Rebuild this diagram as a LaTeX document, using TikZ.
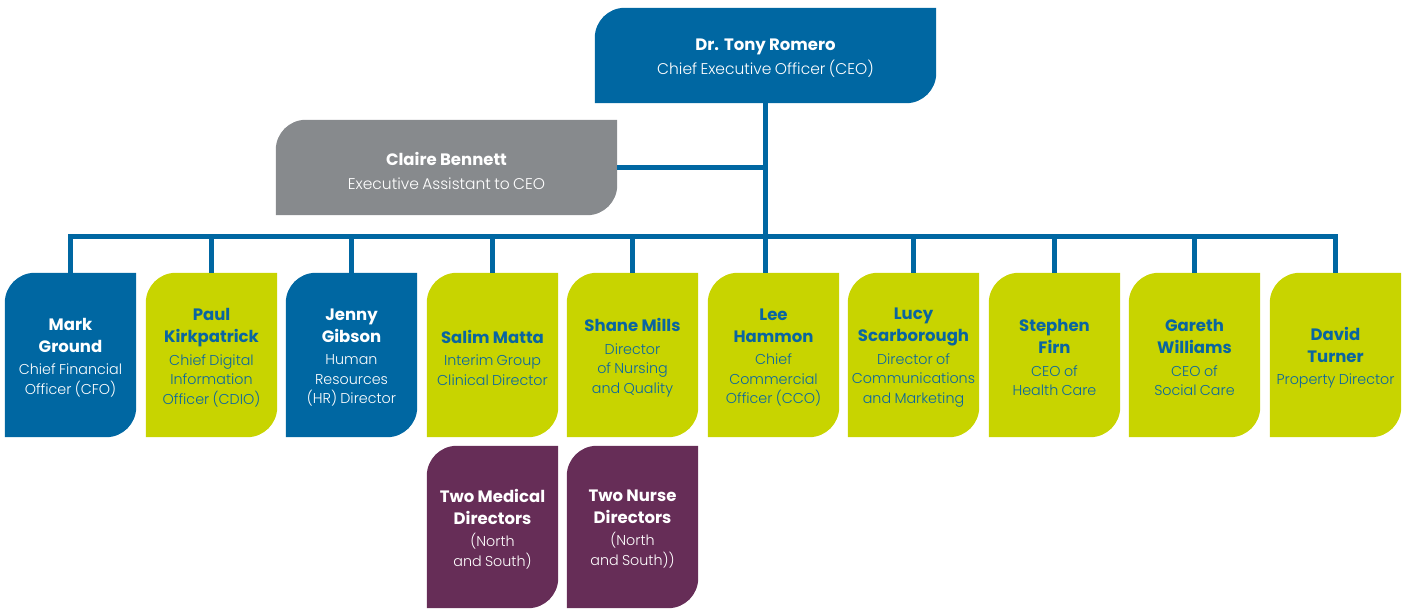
\documentclass[tikz,border=0pt]{standalone}
\usepackage{fontspec}
\setmainfont{Poppins}
\newfontfamily\lightfont{Poppins Light}
\usetikzlibrary{backgrounds}
\definecolor{cblue}{HTML}{0067A2}
\definecolor{clime}{HTML}{C8D400}
\definecolor{cpurple}{HTML}{662D57}
\definecolor{cgray}{HTML}{878A8D}
\definecolor{ctext}{HTML}{0A65A0}
\newcommand\orgname{\fontsize{16.5}{22}\selectfont\bfseries}
\newcommand\orgrole{\vspace{3pt}\fontsize{14.3}{19.5}\selectfont\lightfont}
\newcommand\toprole{\vspace{4pt}\fontsize{15.5}{20}\selectfont\lightfont}
\newcommand\orgshape[2]{\fill[#2] (#1.south west) -- ([yshift=-30pt]#1.north west) arc[start angle=180,end angle=90,radius=30pt] -- (#1.north east) -- ([yshift=30pt]#1.south east) arc[start angle=0,end angle=-90,radius=30pt] -- cycle;}
\tikzset{
  orgbox/.style={inner sep=0pt, text width=131pt, minimum height=164pt, align=center, execute at end node={\par\kern-5pt}},
  subbox/.style={inner sep=0pt, text width=131pt, minimum height=162pt, align=center, execute at end node={\par\kern-4pt}},
  topbox/.style={inner sep=0pt, text width=341pt, minimum height=95pt, align=center, execute at end node={\par\kern-6pt}},
  wtext/.style={text=white},
  btext/.style={text=ctext},
  link/.style={draw=cblue, line width=5pt}
}
\begin{document}
\begin{tikzpicture}[x=1pt,y=1pt]
\useasboundingbox (0,0) rectangle (1410,610);
\node[topbox,wtext] (ceo) at (765.5,554.5) {{\orgname Dr. Tony Romero\par}{\toprole Chief Executive Officer (CEO)\par}};
\node[topbox,wtext] (claire) at (446.5,442.5) {{\orgname Claire Bennett\par}{\toprole Executive Assistant to CEO\par}};
\node[orgbox,wtext] (m1) at (70.5,255) {{\orgname Mark\\Ground\par}{\orgrole Chief Financial\\Officer (CFO)\par}};
\node[orgbox,btext] (m2) at (211.5,255) {{\orgname Paul\\Kirkpatrick\par}{\orgrole Chief Digital\\Information\\Officer (CDIO)\par}};
\node[orgbox,wtext] (m3) at (351.5,255) {{\orgname Jenny\\Gibson\par}{\orgrole Human\\Resources\\(HR) Director\par}};
\node[orgbox,btext] (m4) at (492.5,255) {{\orgname Salim Matta\par}{\orgrole Interim Group\\Clinical Director\par}};
\node[orgbox,btext] (m5) at (632.5,255) {{\orgname Shane Mills\par}{\orgrole Director\\of Nursing\\and Quality\par}};
\node[orgbox,btext] (m6) at (773.5,255) {{\orgname Lee\\Hammon\par}{\orgrole Chief\\Commercial\\Officer (CCO)\par}};
\node[orgbox,btext] (m7) at (913.5,255) {{\orgname Lucy\\Scarborough\par}{\orgrole Director of\\Communications\\and Marketing\par}};
\node[orgbox,btext] (m8) at (1054.5,255) {{\orgname Stephen\\Firn\par}{\orgrole CEO of\\Health Care\par}};
\node[orgbox,btext] (m9) at (1194.5,255) {{\orgname Gareth\\Williams\par}{\orgrole CEO of\\Social Care\par}};
\node[orgbox,btext] (m10) at (1335.5,255) {{\orgname David\\Turner\par}{\orgrole Property Director\par}};
\node[subbox,wtext] (s1) at (492.5,83) {{\orgname Two Medical\\Directors\par}{\orgrole (North\\and South)\par}};
\node[subbox,wtext] (s2) at (632.5,83) {{\orgname Two Nurse\\Directors\par}{\orgrole (North\\and South))\par}};
\coordinate (bus) at (0,373);
\begin{scope}[on background layer]
  \orgshape{ceo}{cblue}
  \orgshape{claire}{cgray}
  \orgshape{m1}{cblue}
  \orgshape{m2}{clime}
  \orgshape{m3}{cblue}
  \foreach \i in {4,...,10} {\orgshape{m\i}{clime}}
  \orgshape{s1}{cpurple}
  \orgshape{s2}{cpurple}
  \draw[link] (ceo.south) -- (ceo.south |- m6.north);
  \draw[link] (claire.east) -- (ceo.south |- claire.east);
  \draw[link] (m1.north) -- (m1.north |- bus) -- (m10.north |- bus) -- (m10.north);
  \foreach \i in {2,3,4,5,7,8,9} {\draw[link] (m\i.north |- bus) -- (m\i.north);}
\end{scope}
\end{tikzpicture}
\end{document}
